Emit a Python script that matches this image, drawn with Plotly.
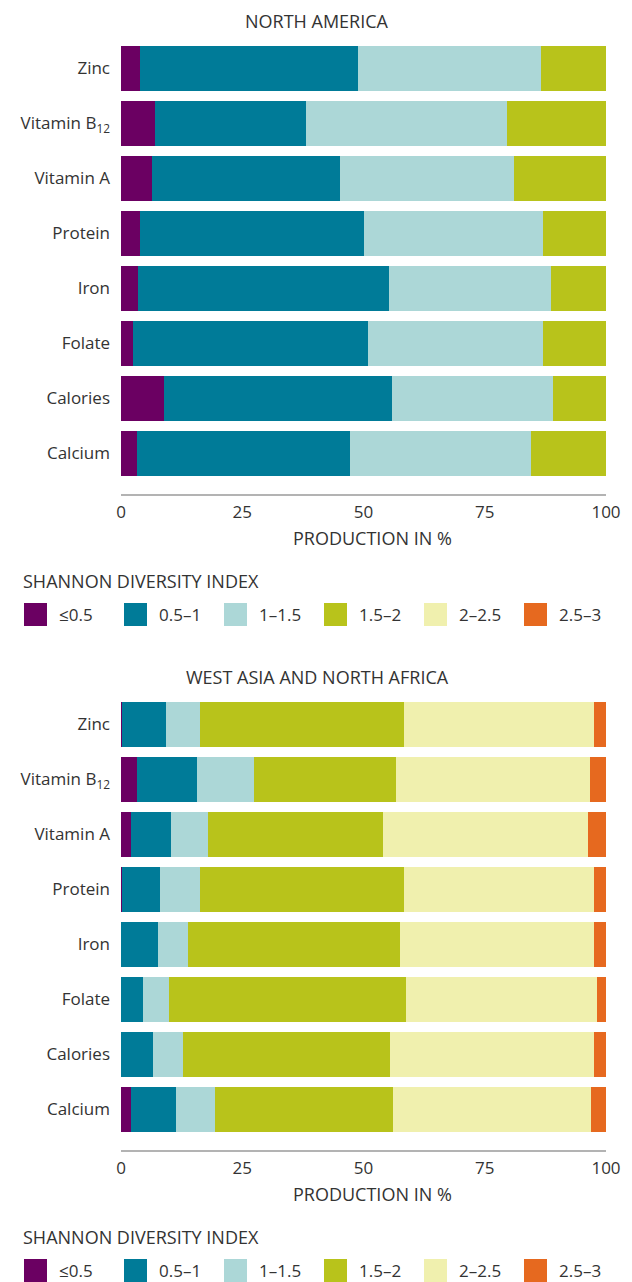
import plotly.graph_objects as go

# page is 632x1282; the html body keeps an 8px margin
PAGE_W, PAGE_H = 632, 1282
BODY = 8
W, H = PAGE_W - 2 * BODY, PAGE_H - BODY

# ---------------- data ----------------
nutrients = ["Zinc", "Vitamin B<sub>12</sub>", "Vitamin A", "Protein", "Iron", "Folate", "Calories", "Calcium"]
bins = ["≤0.5", "0.5–1", "1–1.5", "1.5–2", "2–2.5", "2.5–3"]
colors = ["#6b0062", "#007b98", "#acd7d7", "#b8c31b", "#f0f0ae", "#e6691f"]

# North America (% of production per Shannon diversity bin)
na_le05 = [3.9, 7.1, 6.4, 3.9, 3.5, 2.5, 8.9, 3.3]
na_05_1 = [45.0, 31.1, 38.8, 46.2, 51.8, 48.5, 47.0, 43.9]
na_1_15 = [37.6, 41.4, 35.8, 36.9, 33.4, 36.0, 33.2, 37.3]
na_15_2 = [13.5, 20.4, 19.0, 13.0, 11.3, 13.0, 10.9, 15.5]
na_2_25 = [0, 0, 0, 0, 0, 0, 0, 0]
na_25_3 = [0, 0, 0, 0, 0, 0, 0, 0]

# West Asia and North Africa
wana_le05 = [0.25, 3.3, 2.1, 0.25, 0, 0, 0, 2.1]
wana_05_1 = [9.05, 12.4, 8.2, 7.85, 7.6, 4.6, 6.7, 9.3]
wana_1_15 = [7.0, 11.7, 7.7, 8.2, 6.2, 5.3, 6.1, 8.0]
wana_15_2 = [42.1, 29.3, 36.0, 42.1, 43.7, 48.9, 42.7, 36.7]
wana_2_25 = [39.2, 40.1, 42.3, 39.2, 40.1, 39.4, 42.1, 40.8]
wana_25_3 = [2.4, 3.2, 3.7, 2.4, 2.4, 1.8, 2.4, 3.1]

panels = [
    ("NORTH AMERICA", [na_le05, na_05_1, na_1_15, na_15_2, na_2_25, na_25_3]),
    ("WEST ASIA AND NORTH AFRICA", [wana_le05, wana_05_1, wana_1_15, wana_15_2, wana_2_25, wana_25_3]),
]
x_ticks = [0, 25, 50, 75, 100]
x_title = "PRODUCTION IN %"
legend_title = "SHANNON DIVERSITY INDEX"

# ---------------- layout helpers ----------------
FONT = "Open Sans"
TXT = "#333333"
CAPS = 18  # size of upper-case titles
LAB = 17   # size of labels

def px(x):  # page x -> paper x
    return (x - BODY) / W

def py(y):  # page y -> paper y
    return 1 - (y - BODY) / H

fig = go.Figure()
annotations = []
shapes = []

PANEL_OFFSET = 656
for p, (title, series) in enumerate(panels):
    off = p * PANEL_OFFSET
    xa = "x" if p == 0 else "x2"
    ya = "y" if p == 0 else "y2"
    for name, col, vals in zip(bins, colors, series):
        fig.add_trace(go.Bar(
            y=nutrients, x=vals, name=name, orientation="h",
            marker=dict(color=col, line=dict(width=0)),
            xaxis=xa, yaxis=ya, showlegend=False,
        ))
    top, bottom = 41 + off, 494 + off
    axis_x = dict(
        domain=[px(121), px(606)], range=[0, 100], tickvals=x_ticks,
        showline=True, linecolor="#b3b3b3", linewidth=1.5,
        showgrid=False, zeroline=False, ticks="", ticklabelstandoff=2,
        tickfont=dict(family=FONT, size=LAB, color=TXT), fixedrange=True,
        anchor=ya, automargin=False,
    )
    span = (bottom - top) / 55.0
    axis_y = dict(
        domain=[py(bottom), py(top)], range=[-0.5 + span, -0.5],
        type="category", categoryorder="array", categoryarray=nutrients,
        showline=False, showgrid=False, zeroline=False, ticks="",
        ticklabelstandoff=10, tickfont=dict(family=FONT, size=LAB, color=TXT),
        anchor=xa, automargin=False,
    )
    if p == 0:
        fig.update_layout(xaxis=axis_x, yaxis=axis_y)
    else:
        fig.update_layout(xaxis2=axis_x, yaxis2=axis_y)

    # panel title
    annotations.append(dict(text=title, x=px(317), y=py(21 + off), xref="paper", yref="paper",
                            showarrow=False, xanchor="center", yanchor="middle",
                            font=dict(family=FONT, size=CAPS, color=TXT)))
    # axis title
    annotations.append(dict(text=x_title, x=px(372), y=py(538 + off), xref="paper", yref="paper",
                            showarrow=False, xanchor="center", yanchor="middle",
                            font=dict(family=FONT, size=CAPS, color=TXT)))
    # legend title
    annotations.append(dict(text=legend_title, x=px(21), y=py(581 + off), xref="paper", yref="paper",
                            showarrow=False, xanchor="left", yanchor="middle",
                            font=dict(family=FONT, size=CAPS, color=TXT)))
    # legend items
    for i, (name, col) in enumerate(zip(bins, colors)):
        x0 = 24 + i * 100
        shapes.append(dict(type="rect", xref="paper", yref="paper",
                           x0=px(x0), x1=px(x0 + 23), y0=py(626 + off), y1=py(603 + off),
                           fillcolor=col, line=dict(width=0)))
        annotations.append(dict(text=name, x=px(57 + i * 100), y=py(614 + off), xref="paper", yref="paper",
                                showarrow=False, xanchor="left", yanchor="middle",
                                font=dict(family=FONT, size=LAB, color=TXT)))

fig.update_layout(
    barmode="stack", bargap=0.18,
    width=W, height=H,
    margin=dict(l=0, r=0, t=0, b=0),
    paper_bgcolor="white", plot_bgcolor="white",
    annotations=annotations, shapes=shapes,
    font=dict(family=FONT, color=TXT),
    showlegend=False,
)

fig.write_html("out.html")
